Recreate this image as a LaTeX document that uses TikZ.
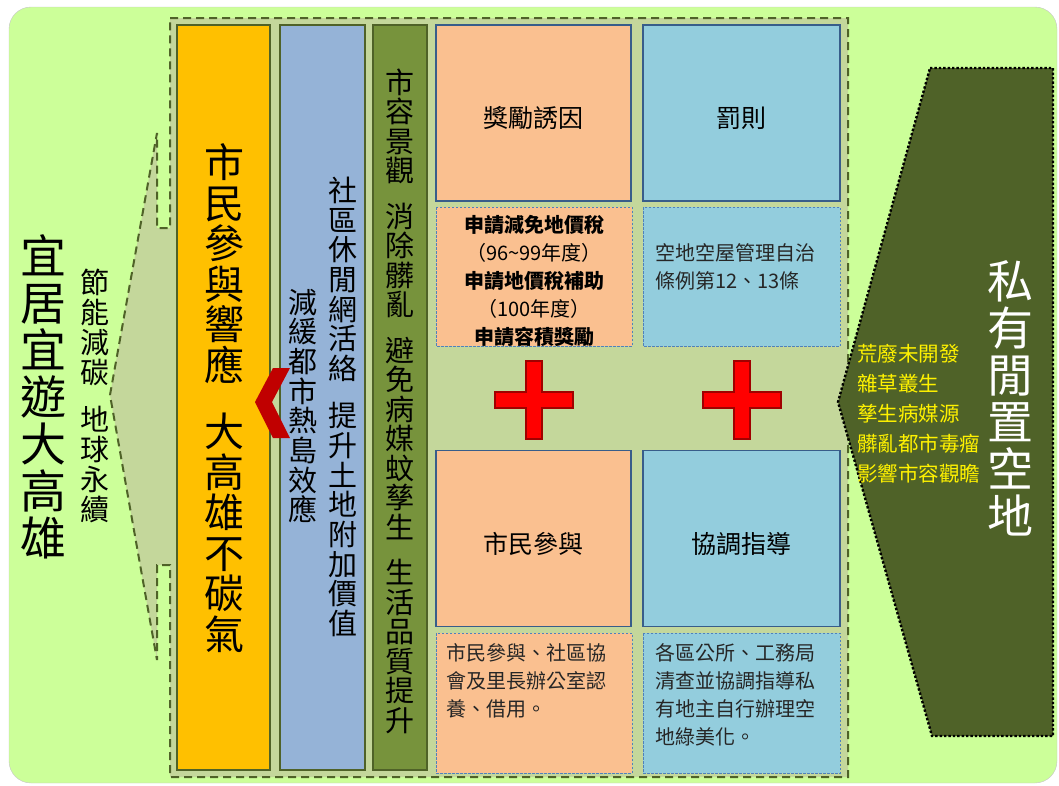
\documentclass[tikz,border=0pt]{standalone}
\usepackage{fontspec}
\setmainfont{Noto Sans CJK TC}
\usepackage{xcolor}
\usepackage{tikz}
\usetikzlibrary{positioning,calc}

\definecolor{bgGreen}{HTML}{CCFF99}
\definecolor{panel}{HTML}{C4D79B}
\definecolor{olive}{HTML}{4F6228}
\definecolor{amber}{HTML}{FFC000}
\definecolor{steel}{HTML}{95B3D7}
\definecolor{moss}{HTML}{77933C}
\definecolor{peach}{HTML}{FAC090}
\definecolor{aqua}{HTML}{93CDDD}
\definecolor{navy}{HTML}{385D8A}
\definecolor{frame}{HTML}{4F81BD}
\definecolor{chevred}{HTML}{C00000}
\definecolor{plusred}{HTML}{A00000}
\newcommand{\fsz}[2]{\fontsize{#1}{#2}\selectfont}

\begin{document}
\begin{tikzpicture}[x=1pt,y=-1pt,
    col/.style={draw=olive,line width=1.3pt},
    vtext/.style={align=center,inner sep=0pt},
    topbox/.style={draw=navy,line width=1.5pt,inner sep=0pt,minimum height=176pt,
        text height=32pt,text depth=3pt,font=\fsz{25}{30}},
    notebox/.style={draw=frame,line width=0.8pt,dash pattern=on 2.5pt off 1.5pt},
    notetext/.style={inner sep=0pt,align=left,font=\fsz{20}{28},text=black!85}]
    \useasboundingbox (0,0) rectangle (1059,785);

    % Background
    \filldraw[fill=bgGreen,draw=gray!45,rounded corners=22pt] (9,7) rectangle (1057,783);

    % Callout panel
    \filldraw[fill=panel,draw=olive,line width=2pt,dash pattern=on 8pt off 5pt]
        (170,18) -- (848,18) -- (848,777) -- (170,777) -- (170,565) -- (157,565)
        -- (157,660) -- (110,395) -- (157,133) -- (157,228) -- (170,228) -- cycle;

    % Goal
    \node[vtext,font=\fsz{46}{47}] (goal) at (43,397) {宜\\居\\宜\\遊\\大\\高\\雄};
    \node[vtext,font=\fsz{29}{30}] (aim) at (95,396) {節\\能\\減\\碳\\[0.6em]地\\球\\永\\續};

    % Columns
    \filldraw[col,fill=amber] (177,25) rectangle (270,770);
    \filldraw[col,fill=steel] (280,25) rectangle (365,770);
    \filldraw[col,fill=moss] (373,25) rectangle (427,770);
    \fill[chevred] (255,402) -- (273,368) -- (290,368) -- (272,402) -- (290,438) -- (273,438) -- cycle;

    \node[vtext,font=\fsz{40}{40.5}] (response) at (224,398)
        {市\\民\\參\\與\\響\\應\\[0.65em]大\\高\\雄\\不\\碳\\氣};
    \node[vtext,font=\fsz{29}{29.7}] (leisure) at (343,407)
        {社\\區\\休\\閒\\網\\活\\絡\\[0.6em]提\\升\\土\\地\\附\\加\\價\\值};
    \node[vtext,font=\fsz{29}{29.7}] (heat) at (303,406) {減\\緩\\都\\市\\熱\\島\\效\\應};
    \node[vtext,font=\fsz{29}{29.5}] (scene) at (400,401)
        {市\\容\\景\\觀\\[0.55em]消\\除\\髒\\亂\\[0.55em]避\\免\\病\\媒\\蚊\\孳\\生\\[0.55em]生\\活\\品\\質\\提\\升};

    % Boxes
    \node[topbox,fill=peach,minimum width=195pt] (award) at (533.5,113) {獎勵誘因};
    \node[topbox,fill=aqua,minimum width=197pt] (penalty) at (741.5,113) {罰則};
    \node[topbox,fill=peach,minimum width=195pt] (citizen) at (533.5,538.5) {市民參與};
    \node[topbox,fill=aqua,minimum width=197pt] (guide) at (741.5,538.5) {協調指導};

    \filldraw[notebox,fill=peach] (436,207) rectangle (632,346);
    \filldraw[notebox,fill=aqua] (643,207) rectangle (840,346);
    \filldraw[notebox,fill=peach] (436,633) rectangle (632,773);
    \filldraw[notebox,fill=aqua] (643,633) rectangle (840,773);

    \node[notetext,align=center,anchor=north,text=black] (reward) at (534,215)
        {\textbf{申請減免地價稅}\\（96\textasciitilde99年度）\\\textbf{申請地價稅補助}\\（100年度）\\\textbf{申請容積獎勵}};
    \node[notetext,anchor=north west] (rule) at (655,243) {空地空屋管理自治\\條例第12、13條};
    \node[notetext,anchor=north west] (adopt) at (446,643) {市民參與、社區協\\會及里長辦公室認\\養、借用。};
    \node[notetext,anchor=north west] (clean) at (655,643)
        {各區公所、工務局\\清查並協調指導私\\有地主自行辦理空\\地綠美化。};

    % Plus signs
    \foreach \px in {534,742}
        \filldraw[fill=red,draw=plusred,line width=2pt,shift={(\px,400)}]
            (-8,-39) -- (8,-39) -- (8,-8) -- (39,-8) -- (39,8) -- (8,8) -- (8,39)
            -- (-8,39) -- (-8,8) -- (-39,8) -- (-39,-8) -- (-8,-8) -- cycle;

    % Vacant land
    \filldraw[fill=olive,draw=black,line width=2.4pt,dash pattern=on 2.4pt off 2pt]
        (930,68) -- (1053,68) -- (1053,736) -- (932,736) -- (838,402) -- cycle;
    \node[vtext,font=\fsz{46}{47},text=white] (land) at (1010,398) {私\\有\\閒\\置\\空\\地};
    \node[inner sep=0pt,align=left,anchor=north west,font=\fsz{20.5}{30},text=yellow] (issues) at (857,344)
        {荒廢未開發\\雜草叢生\\孳生病媒源\\髒亂都市毒瘤\\影響市容觀瞻};
\end{tikzpicture}
\end{document}
